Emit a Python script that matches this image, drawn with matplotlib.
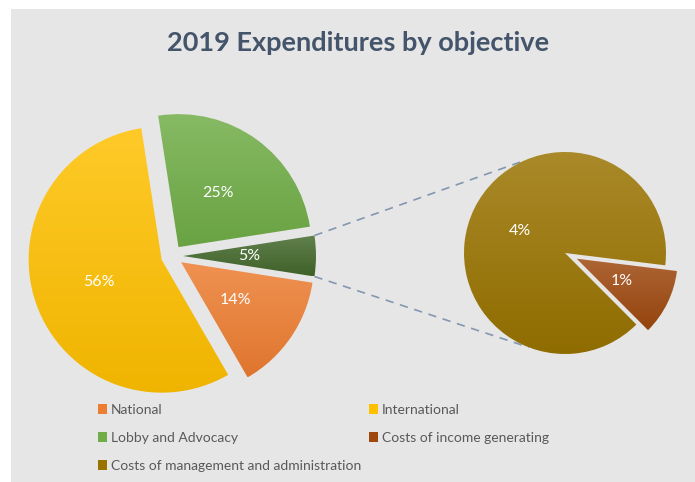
# _*_ coding: utf-8 _*_

"""
  2019 expenditures by objective, pie of pie.
"""

import numpy as np
import matplotlib.pyplot as plt
from matplotlib.colors import to_rgb
from matplotlib.patches import Rectangle, Patch

# data (percent of total expenditure)
main_labels = ['Other', 'Lobby and Advocacy', 'International', 'National']
main_values = [4.92, 24.98, 55.9, 14.2]
sub_labels = ['Costs of management and administration',
              'Costs of income generating']
sub_values = [4.4, 0.52]

colors = {'National': '#ED7D31', 'International': '#FFC000',
          'Lobby and Advocacy': '#70AD47', 'Other': '#43682B',
          'Costs of income generating': '#9E480E',
          'Costs of management and administration': '#997300'}

plt.rcParams['font.family'] = ['Lato', 'DejaVu Sans']

W, H = 695, 482
fig = plt.figure(figsize=(W / 100, H / 100), dpi=100, facecolor='white')
ax = fig.add_axes([0, 0, 1, 1])
ax.set_xlim(0, W)
ax.set_ylim(0, H)
ax.set_aspect('equal')
ax.axis('off')

# background panel
ax.add_patch(Rectangle((11, 0), W - 11, H - 9, facecolor='#e6e6e6',
                       edgecolor='none', zorder=0))


def pct_round(v, total):
    return '{}%'.format(int(np.floor(100.0 * v / total + 0.5)))


def shade(c, f):
    c = np.array(to_rgb(c))
    if f > 0:
        return c + (1 - c) * f
    return c * (1 + f)


def gradient_fill(wedges, names):
    for w, name in zip(wedges, names):
        v = w.get_path().vertices
        x0, y0 = v.min(axis=0)
        x1, y1 = v.max(axis=0)
        top = shade(colors[name], 0.16)
        bot = shade(colors[name], -0.06)
        t = np.linspace(0, 1, 64)[:, None]
        img = (top[None, :] * (1 - t) + bot[None, :] * t)[:, None, :]
        im = ax.imshow(img, extent=(x0, x1, y0, y1), origin='upper',
                       aspect='auto', zorder=2, interpolation='bilinear')
        im.set_clip_path(w)
        w.set_facecolor('none')


def add_pct(wedges, values, r):
    for w, v in zip(wedges, values):
        mid = np.deg2rad((w.theta1 + w.theta2) / 2)
        cx, cy = w.center
        ax.text(cx + 0.5 * r * np.cos(mid), cy + 0.5 * r * np.sin(mid),
                pct_round(v, main_total), color='white', fontsize=11.5,
                ha='center', va='center', zorder=5)


# main pie (explode is in data units here)
main_total = sum(main_values)
main_center = (172, H - 256)
main_r = 133
start = -180.0 * main_values[0] / main_total
wedges, _ = ax.pie(main_values, center=main_center, radius=main_r,
                   startangle=start, explode=[11] * 4,
                   colors=[colors[n] for n in main_labels],
                   wedgeprops=dict(linewidth=0), frame=True)
gradient_fill(wedges, main_labels)
add_pct(wedges, main_values, main_r)

# secondary pie
sub_center = (565, H - 253)
sub_r = 101
wedges2, _ = ax.pie(sub_values, center=sub_center, radius=sub_r,
                    startangle=-7, explode=[0, 13],
                    colors=[colors[n] for n in sub_labels],
                    wedgeprops=dict(linewidth=0), frame=True)
gradient_fill(wedges2, sub_labels)
add_pct(wedges2, sub_values, sub_r)

# connector lines from the "other" slice to the secondary pie
ow = wedges[0]
ocx, ocy = ow.center
for th_main, th_sub in [(ow.theta2, 114), (ow.theta1, -111)]:
    a = np.deg2rad(th_main)
    b = np.deg2rad(th_sub)
    ax.plot([ocx + main_r * np.cos(a), sub_center[0] + sub_r * np.cos(b)],
            [ocy + main_r * np.sin(a), sub_center[1] + sub_r * np.sin(b)],
            color='#8497B0', lw=1.2, ls=(0, (5, 4)), zorder=1)

ax.set_xlim(0, W)
ax.set_ylim(0, H)
ax.axis('off')

# title
ax.text(358, H - 43, '2019 Expenditures by objective', color='#44546A',
        fontsize=19.5, fontweight='bold', ha='center', va='center')

# legend (row-wise order with two columns)
order = ['National', 'Lobby and Advocacy',
         'Costs of management and administration',
         'International', 'Costs of income generating']
handles = [Patch(facecolor=colors[n], label=n) for n in order]
ax.legend(handles=handles, ncol=2, loc='upper left',
          bbox_to_anchor=(92 / W, 1 - 398 / H), frameon=False,
          fontsize=10, labelcolor='#595959', handlelength=0.7,
          handleheight=0.7, handletextpad=0.25, labelspacing=1.15,
          columnspacing=0.55, borderaxespad=0)

fig.savefig('out.png', dpi=100, facecolor='white')
